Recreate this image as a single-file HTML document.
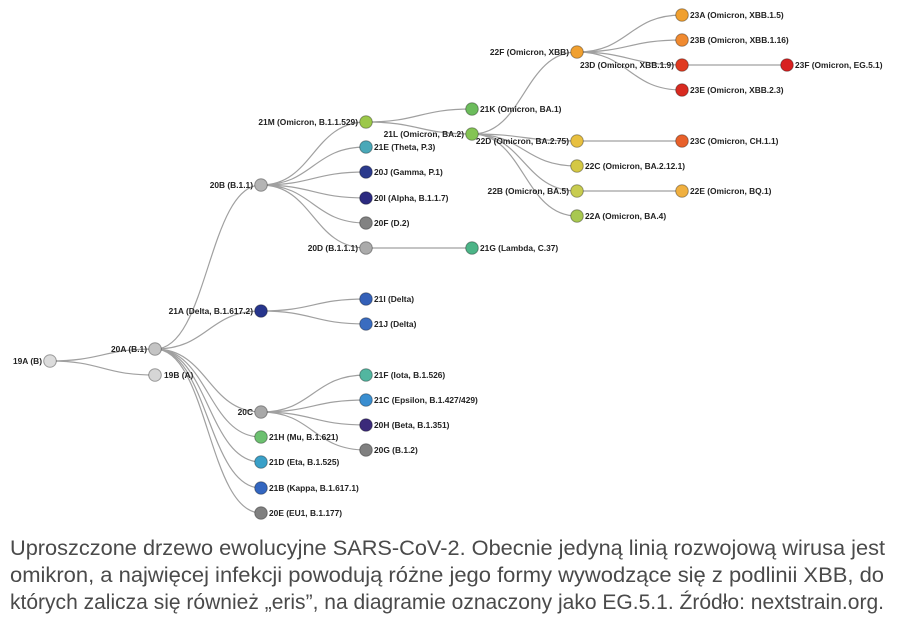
<!DOCTYPE html>
<html><head><meta charset="utf-8"><style>
html,body{margin:0;padding:0;background:#fff;}
svg{display:block;}
.l{font-family:"Liberation Sans",Arial,sans-serif;font-size:8.4px;font-weight:bold;fill:#222;}
.e{fill:none;stroke:#a0a0a0;stroke-width:1.2;}
.n{stroke:rgba(0,0,0,0.35);stroke-width:1;}
.c{font-family:"Liberation Sans",Arial,sans-serif;font-size:21px;fill:#4a4a4a;}
</style></head><body>
<svg width="900" height="622" viewBox="0 0 900 622" xmlns="http://www.w3.org/2000/svg">
<g class="e">
<path d="M50 361 C102 361 102 349 155 349"/>
<path d="M50 361 C102 361 102 375 155 375"/>
<path d="M155 349 C208 349 208 185 261 185"/>
<path d="M155 349 C208 349 208 311 261 311"/>
<path d="M155 349 C208 349 208 412 261 412"/>
<path d="M155 349 C208 349 208 437 261 437"/>
<path d="M155 349 C208 349 208 462 261 462"/>
<path d="M155 349 C208 349 208 488 261 488"/>
<path d="M155 349 C208 349 208 513 261 513"/>
<path d="M261 185 C313 185 313 122 366 122"/>
<path d="M261 185 C313 185 313 147 366 147"/>
<path d="M261 185 C313 185 313 172 366 172"/>
<path d="M261 185 C313 185 313 198 366 198"/>
<path d="M261 185 C313 185 313 223 366 223"/>
<path d="M261 185 C313 185 313 248 366 248"/>
<path d="M366 248 L472 248"/>
<path d="M261 311 C313 311 313 299 366 299"/>
<path d="M261 311 C313 311 313 324 366 324"/>
<path d="M261 412 C313 412 313 375 366 375"/>
<path d="M261 412 C313 412 313 400 366 400"/>
<path d="M261 412 C313 412 313 425 366 425"/>
<path d="M261 412 C313 412 313 450 366 450"/>
<path d="M366 122 C419 122 419 109 472 109"/>
<path d="M366 122 C419 122 419 134 472 134"/>
<path d="M472 134 C524 134 524 52 577 52"/>
<path d="M472 134 C524 134 524 141 577 141"/>
<path d="M472 134 C524 134 524 166 577 166"/>
<path d="M472 134 C524 134 524 191 577 191"/>
<path d="M472 134 C524 134 524 216 577 216"/>
<path d="M577 52 C629 52 629 15 682 15"/>
<path d="M577 52 C629 52 629 40 682 40"/>
<path d="M577 52 C629 52 629 65 682 65"/>
<path d="M577 52 C629 52 629 90 682 90"/>
<path d="M682 65 L787 65"/>
<path d="M577 141 L682 141"/>
<path d="M577 191 L682 191"/>
</g>
<g class="n">
<circle cx="50" cy="361" r="6.3" fill="#dcdcdc"/>
<circle cx="155" cy="349" r="6.3" fill="#c4c4c4"/>
<circle cx="155" cy="375" r="6.3" fill="#d6d6d6"/>
<circle cx="261" cy="185" r="6.3" fill="#b4b4b4"/>
<circle cx="261" cy="311" r="6.3" fill="#27358c"/>
<circle cx="261" cy="412" r="6.3" fill="#a8a8a8"/>
<circle cx="261" cy="437" r="6.3" fill="#6cc070"/>
<circle cx="261" cy="462" r="6.3" fill="#3aa0c8"/>
<circle cx="261" cy="488" r="6.3" fill="#3366c0"/>
<circle cx="261" cy="513" r="6.3" fill="#808080"/>
<circle cx="366" cy="122" r="6.3" fill="#9cc84a"/>
<circle cx="366" cy="147" r="6.3" fill="#4aa8b8"/>
<circle cx="366" cy="172" r="6.3" fill="#2b3a8c"/>
<circle cx="366" cy="198" r="6.3" fill="#2c2a80"/>
<circle cx="366" cy="223" r="6.3" fill="#828282"/>
<circle cx="366" cy="248" r="6.3" fill="#ababab"/>
<circle cx="472" cy="248" r="6.3" fill="#4cb487"/>
<circle cx="366" cy="299" r="6.3" fill="#3460b8"/>
<circle cx="366" cy="324" r="6.3" fill="#3a6cc0"/>
<circle cx="366" cy="375" r="6.3" fill="#52b6a0"/>
<circle cx="366" cy="400" r="6.3" fill="#3a8ed0"/>
<circle cx="366" cy="425" r="6.3" fill="#3b2a7a"/>
<circle cx="366" cy="450" r="6.3" fill="#808080"/>
<circle cx="472" cy="109" r="6.3" fill="#6cbc5c"/>
<circle cx="472" cy="134" r="6.3" fill="#84c454"/>
<circle cx="577" cy="52" r="6.3" fill="#f0a030"/>
<circle cx="577" cy="141" r="6.3" fill="#e8c040"/>
<circle cx="577" cy="166" r="6.3" fill="#d4c844"/>
<circle cx="577" cy="191" r="6.3" fill="#c8cc50"/>
<circle cx="577" cy="216" r="6.3" fill="#a8c850"/>
<circle cx="682" cy="15" r="6.3" fill="#f0a030"/>
<circle cx="682" cy="40" r="6.3" fill="#f08a30"/>
<circle cx="682" cy="65" r="6.3" fill="#e03a20"/>
<circle cx="682" cy="90" r="6.3" fill="#d82a20"/>
<circle cx="787" cy="65" r="6.3" fill="#d82020"/>
<circle cx="682" cy="141" r="6.3" fill="#e8602a"/>
<circle cx="682" cy="191" r="6.3" fill="#f0b040"/>
</g>
<g class="l">
<text x="42" y="364" text-anchor="end">19A (B)</text>
<text x="147" y="352" text-anchor="end">20A (B.1)</text>
<text x="164" y="378">19B (A)</text>
<text x="253" y="188" text-anchor="end">20B (B.1.1)</text>
<text x="253" y="314" text-anchor="end">21A (Delta, B.1.617.2)</text>
<text x="253" y="415" text-anchor="end">20C</text>
<text x="269" y="440">21H (Mu, B.1.621)</text>
<text x="269" y="465">21D (Eta, B.1.525)</text>
<text x="269" y="491">21B (Kappa, B.1.617.1)</text>
<text x="269" y="516">20E (EU1, B.1.177)</text>
<text x="358" y="125" text-anchor="end">21M (Omicron, B.1.1.529)</text>
<text x="374" y="150">21E (Theta, P.3)</text>
<text x="374" y="175">20J (Gamma, P.1)</text>
<text x="374" y="201">20I (Alpha, B.1.1.7)</text>
<text x="374" y="226">20F (D.2)</text>
<text x="358" y="251" text-anchor="end">20D (B.1.1.1)</text>
<text x="480" y="251">21G (Lambda, C.37)</text>
<text x="374" y="302">21I (Delta)</text>
<text x="374" y="327">21J (Delta)</text>
<text x="374" y="378">21F (Iota, B.1.526)</text>
<text x="374" y="403">21C (Epsilon, B.1.427/429)</text>
<text x="374" y="428">20H (Beta, B.1.351)</text>
<text x="374" y="453">20G (B.1.2)</text>
<text x="480" y="112">21K (Omicron, BA.1)</text>
<text x="464" y="137" text-anchor="end">21L (Omicron, BA.2)</text>
<text x="569" y="55" text-anchor="end">22F (Omicron, XBB)</text>
<text x="569" y="144" text-anchor="end">22D (Omicron, BA.2.75)</text>
<text x="585" y="169">22C (Omicron, BA.2.12.1)</text>
<text x="569" y="194" text-anchor="end">22B (Omicron, BA.5)</text>
<text x="585" y="219">22A (Omicron, BA.4)</text>
<text x="690" y="18">23A (Omicron, XBB.1.5)</text>
<text x="690" y="43">23B (Omicron, XBB.1.16)</text>
<text x="674" y="68" text-anchor="end">23D (Omicron, XBB.1.9)</text>
<text x="690" y="93">23E (Omicron, XBB.2.3)</text>
<text x="795" y="68">23F (Omicron, EG.5.1)</text>
<text x="690" y="144">23C (Omicron, CH.1.1)</text>
<text x="690" y="194">22E (Omicron, BQ.1)</text>
</g>
<text class="c" x="10" y="555" textLength="875" lengthAdjust="spacingAndGlyphs">Uproszczone drzewo ewolucyjne SARS-CoV-2. Obecnie jedyną linią rozwojową wirusa jest</text>
<text class="c" x="10" y="582" textLength="874" lengthAdjust="spacingAndGlyphs">omikron, a najwięcej infekcji powodują różne jego formy wywodzące się z podlinii XBB, do</text>
<text class="c" x="10" y="609" textLength="874" lengthAdjust="spacingAndGlyphs">których zalicza się również „eris”, na diagramie oznaczony jako EG.5.1. Źródło: nextstrain.org.</text>
</svg>
</body></html>
